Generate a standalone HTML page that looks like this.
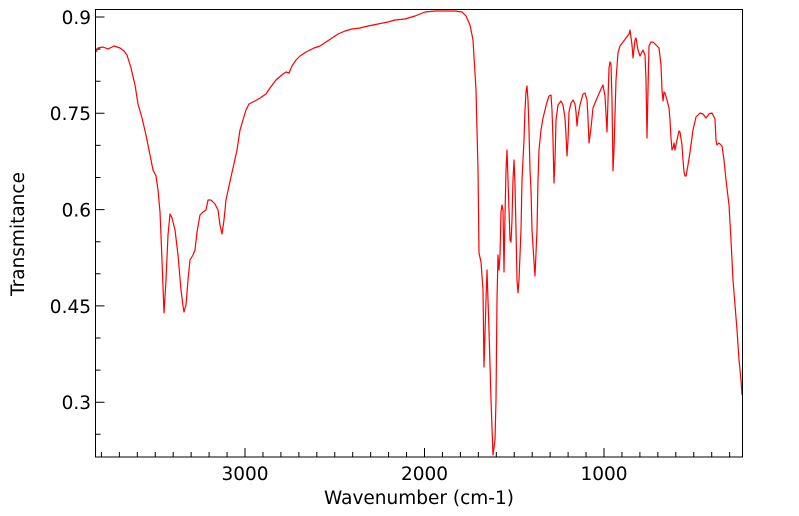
<!DOCTYPE html>
<html><head><meta charset="utf-8"><style>
body{margin:0;background:#fff;}
svg{display:block;font-family:"DejaVu Sans","Liberation Sans",sans-serif;}
</style></head><body>
<svg width="799" height="516" viewBox="0 0 799 516" xmlns="http://www.w3.org/2000/svg">
<rect x="0" y="0" width="799" height="516" fill="#fff"/>
<path stroke="#000" stroke-width="1" fill="none" d="
M101.4,457v-5 M119.35,457v-5 M137.3,457v-5 M155.25,457v-5 M173.2,457v-5 M191.15,457v-5 M209.1,457v-5 M227.05,457v-5 M245,457v-9 M262.95,457v-5 M280.9,457v-5 M298.85,457v-5 M316.8,457v-5 M334.75,457v-5 M352.7,457v-5 M370.65,457v-5 M388.6,457v-5 M406.55,457v-5 M424.5,457v-9 M442.45,457v-5 M460.4,457v-5 M478.35,457v-5 M496.3,457v-5 M514.25,457v-5 M532.2,457v-5 M550.15,457v-5 M568.1,457v-5 M586.05,457v-5 M604,457v-9 M621.95,457v-5 M639.9,457v-5 M657.85,457v-5 M675.8,457v-5 M693.75,457v-5 M711.7,457v-5 M729.65,457v-5
M95.5,17h9 M95.5,49.1h5 M95.5,81.2h5 M95.5,113.3h9 M95.5,145.4h5 M95.5,177.5h5 M95.5,209.6h9 M95.5,241.7h5 M95.5,273.8h5 M95.5,305.9h9 M95.5,338h5 M95.5,370.1h5 M95.5,402.2h9 M95.5,434.3h5"/>
<polyline fill="none" stroke="#ff0000" stroke-width="1.2" stroke-linejoin="round" points="
96,52 98,48 103,47 108,49 114,46 120,48 124,51 127,55 131,68 135,85 138,104 142,118 146,135 150,155 153,170 156,176 158,190 160,212 162,260 164,313 166,280 168,235 170,214 172,218 175,230 178,255 181,290 183,306 184,312 186,305 188,280 190,260 193,255 195,250 197,232 200,215 203,212 206,210 208,200 211,200 215,204 218,210 220,225 222,234 224,220 226,200 229,186 233,168 237,150 240,130 243,120 246,110 249,104 255,101 260,98 266,94 270,88 276,80 283,74 286,72 289,73 292,66 296,60 300,56 306,52 314,48 320,46 326,42 332,38 338,34 345,31 352,29 360,28 368,26 378,24 388,22 395,20 405,19 415,16 425,12 435,11 445,11 455,11 462,12 466,16 470,25 473,40 476,90 478,170 479,253 481,262 483,290 484,367 486,300 487,270 489,330 491,400 493,455 495,440 496,400 497,300 498,255 499,270 500,255 501,212 502,205 503,210 504,272 505,215 506,170 507,150 508,180 509,210 510,240 511,242 512,220 513,180 514,160 515,185 516,230 517,280 518,293 519,280 521,230 522,180 523,160 524,140 525,110 526,92 527,86 528,100 529,130 530,170 531,190 532,230 534,262 535,276 537,230 538,180 539,150 541,130 543,118 545,110 547,102 549,96 551,95 552,110 553,140 554,183 555,160 556,120 558,105 561,101 563,105 565,118 566,135 567,156 568,140 569,112 571,103 573,100 575,104 576,112 577,126 578,116 580,105 583,94 585,93 587,100 588,118 589,143 591,128 593,108 595,103 598,96 601,89 603,85 605,96 607,132 608,100 609,68 610,62 611,64 612,100 613,171 614,150 616,80 618,53 620,46 623,42 626,38 629,34 630,30 632,45 633,58 635,40 636,38 638,50 640,56 642,52 643,50 645,55 646,80 647,138 648,90 649,46 651,42 653,42 656,45 659,48 661,65 662,90 663,101 664,92 665,93 667,100 669,108 670,120 671,138 672,150 673,148 674,143 675,150 677,140 679,131 680,132 682,145 683,160 684,172 685,176 686,176 688,165 690,152 693,130 696,117 700,113 703,114 706,118 709,114 712,113 715,119 716,140 717,145 719,143 722,146 724,160 726,180 729,205 731,240 733,280 735,305 737,330 739,360 741,380 742,395"/>
<rect x="95.5" y="9.5" width="647" height="447.5" fill="none" stroke="#000" stroke-width="1"/>
<g font-size="18.5" fill="#000" text-anchor="end">
<text x="91" y="24">0.9</text>
<text x="91" y="120">0.75</text>
<text x="91" y="216.5">0.6</text>
<text x="91" y="313">0.45</text>
<text x="91" y="409">0.3</text>
</g>
<g font-size="18.5" fill="#000" text-anchor="middle">
<text x="245" y="480">3000</text>
<text x="424.5" y="480">2000</text>
<text x="604" y="480">1000</text>
<text x="419" y="504">Wavenumber (cm-1)</text>
<text transform="translate(24,234) rotate(-90)">Transmitance</text>
</g>
</svg>
</body></html>
